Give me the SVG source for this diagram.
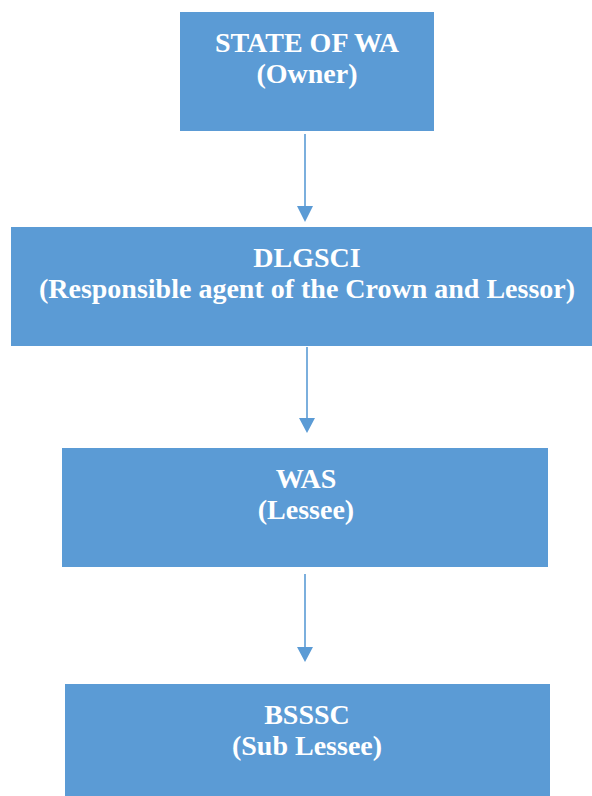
<svg xmlns="http://www.w3.org/2000/svg" width="592" height="796" viewBox="0 0 592 796">
<style>
.box{fill:#5B9BD5;}
.t{font-family:"Liberation Serif","Times New Roman",serif;font-weight:bold;font-size:28px;fill:#FFFFFF;text-anchor:middle;}
.ln{stroke:#5B9BD5;stroke-width:1.6;fill:none;}
.hd{fill:#5B9BD5;}
</style>
<rect width="592" height="796" fill="#FFFFFF"/>
<g id="connectors">
<line class="ln" x1="305" y1="134" x2="305" y2="210"/>
<polygon class="hd" points="297,206 313,206 305,222"/>
<line class="ln" x1="307" y1="347" x2="307" y2="422"/>
<polygon class="hd" points="299,418 315,418 307,433"/>
<line class="ln" x1="305" y1="574" x2="305" y2="650"/>
<polygon class="hd" points="297,647 313,647 305,662"/>
</g>
<g id="node-state">
<rect class="box" x="180" y="12" width="254" height="119"/>
<text class="t" x="307" y="52">STATE OF WA</text>
<text class="t" x="307" y="83">(Owner)</text>
</g>
<g id="node-dlgsci">
<rect class="box" x="11" y="227" width="581" height="119"/>
<text class="t" x="307" y="267">DLGSCI</text>
<text class="t" x="307" y="298">(Responsible agent of the Crown and Lessor)</text>
</g>
<g id="node-was">
<rect class="box" x="62" y="448" width="486" height="119"/>
<text class="t" x="306" y="488">WAS</text>
<text class="t" x="306" y="519">(Lessee)</text>
</g>
<g id="node-bsssc">
<rect class="box" x="65" y="684" width="485" height="112"/>
<text class="t" x="307" y="724">BSSSC</text>
<text class="t" x="307" y="755">(Sub Lessee)</text>
</g>
</svg>
